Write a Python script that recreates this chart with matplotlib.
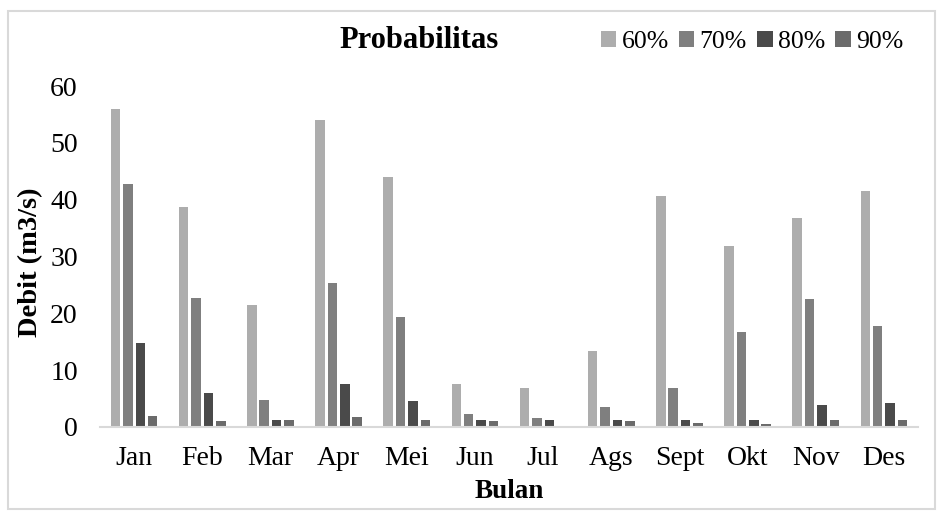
import numpy as np
import matplotlib
matplotlib.use('Agg')
import matplotlib.pyplot as plt
import matplotlib.patches as patches

plt.rcParams['font.family'] = ['Liberation Serif', 'DejaVu Serif']

# --- DADOS ---
bulan = ['Jan', 'Feb', 'Mar', 'Apr', 'Mei', 'Jun', 'Jul', 'Ags', 'Sept', 'Okt', 'Nov', 'Des']
seri = ['60%', '70%', '80%', '90%']
debit_60 = [55.9, 38.7, 21.4, 54.0, 44.0, 7.6, 6.8, 13.4, 40.6, 31.9, 36.8, 41.6]
debit_70 = [42.8, 22.7, 4.7, 25.3, 19.3, 2.35, 1.5, 3.5, 6.8, 16.8, 22.6, 17.7]
debit_80 = [14.8, 6.05, 1.2, 7.6, 4.5, 1.2, 1.2, 1.2, 1.2, 1.2, 3.9, 4.2]
debit_90 = [1.9, 1.06, 1.2, 1.8, 1.2, 1.1, 0.25, 1.0, 0.7, 0.47, 1.2, 1.2]

CORES = ['#adadad', '#7f7f7f', '#4a4a4a', '#6b6b6b']

W, H = 943, 516
fig = plt.figure(figsize=(W / 100, H / 100), dpi=100)

# borda externa do gráfico
borda = patches.Rectangle((8 / W, 1 - 509 / H), (935 - 8) / W, (509 - 11) / H,
                          transform=fig.transFigure, fill=False,
                          edgecolor='#d9d9d9', linewidth=1.5)
fig.patches.append(borda)

ax = fig.add_axes([100 / W, 1 - 427 / H, 818 / W, (427 - 86) / H])

x = np.arange(len(bulan))
largura = 0.14
passo = 0.182
valores = [debit_60, debit_70, debit_80, debit_90]
for i, (nome, vals) in enumerate(zip(seri, valores)):
    ax.bar(x + (i - 1.5) * passo, vals, largura, color=CORES[i], label=nome)

ax.set_xlim(-0.5, len(bulan) - 0.5)
ax.set_ylim(0, 60)
ax.set_yticks(range(0, 61, 10))
ax.set_xticks(x)
ax.set_xticklabels(bulan)
ax.tick_params(axis='both', length=0, labelsize=20)
ax.tick_params(axis='x', pad=14)
ax.tick_params(axis='y', pad=16)

for lado in ['top', 'right', 'left']:
    ax.spines[lado].set_visible(False)
ax.spines['bottom'].set_color('#d9d9d9')
ax.spines['bottom'].set_linewidth(1.5)

fig.text(31 / W, 1 - 262 / H, 'Debit (m3/s)', rotation=90, fontsize=20.5,
         fontweight='bold', ha='center', va='center')
fig.text(509 / W, 1 - 492 / H, 'Bulan', fontsize=19.5, fontweight='bold',
         ha='center', va='center')
fig.text(419 / W, 1 - 40 / H, 'Probabilitas', fontsize=22, fontweight='bold',
         ha='center', va='center')

fig.legend(loc='center', bbox_to_anchor=(752 / W, 1 - 42 / H), ncol=4,
           frameon=False, fontsize=18.5, handlelength=0.6, handleheight=0.6,
           handletextpad=0.2, columnspacing=0.4)

fig.savefig('out.png', dpi=100)
